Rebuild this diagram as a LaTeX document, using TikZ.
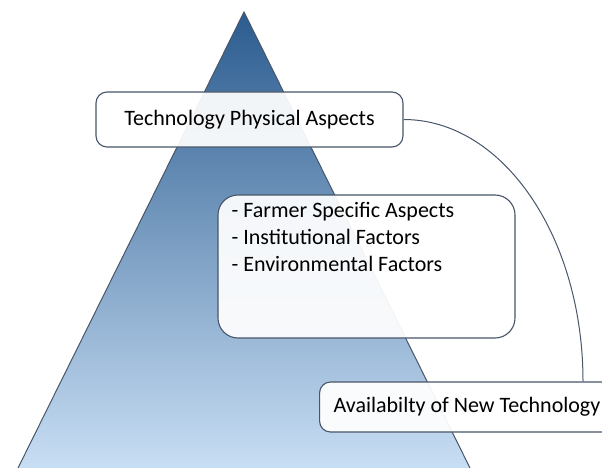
\documentclass[tikz,border=0pt]{standalone}
\usepackage{fontspec}
\setmainfont{Carlito}
\usetikzlibrary{positioning}
\definecolor{pyrtop}{HTML}{2B5C8F}
\definecolor{pyrmid}{HTML}{7AA7D6}
\definecolor{pyrbot}{HTML}{C8DEF4}
\definecolor{edge}{HTML}{475669}
\tikzset{
  box/.style={draw=edge,line width=1.1pt,rounded corners=11pt,fill=white,fill opacity=0.93,text opacity=1,font=\fontsize{22}{27}\selectfont},
  link/.style={draw=edge,line width=1pt}
}
\begin{document}
\begin{tikzpicture}[x=1pt,y=-1pt]
\useasboundingbox (0,0) rectangle (602,468);
\shade[top color=pyrtop,middle color=pyrmid,bottom color=pyrbot] (244,12) -- (470,468) -- (18,468) -- cycle;
\draw[edge,line width=1pt] (18,468) -- (244,12) -- (470,468);
\node[box,minimum width=307pt,minimum height=55pt] (tech) at (249.5,119.5) {Technology Physical Aspects};
\node[box,rounded corners=20pt,minimum width=297pt,minimum height=143pt] (factors) at (366.5,266.5) {};
\node[anchor=north west,align=left,font=\fontsize{22}{27}\selectfont,inner sep=0pt] (factlist) at ([xshift=14pt,yshift=-8pt]factors.north west) {- Farmer Specific Aspects\\- Institutional Factors\\- Environmental Factors};
\node[box,anchor=west,inner xsep=14pt,minimum height=50pt] (avail) at (319,407) {Availabilty of New Technology};
\coordinate (drop) at ([xshift=264pt]avail.north west);
\draw[link] (tech.east) .. controls +(99,0) and +(0,-145) .. (drop);
\end{tikzpicture}
\end{document}
